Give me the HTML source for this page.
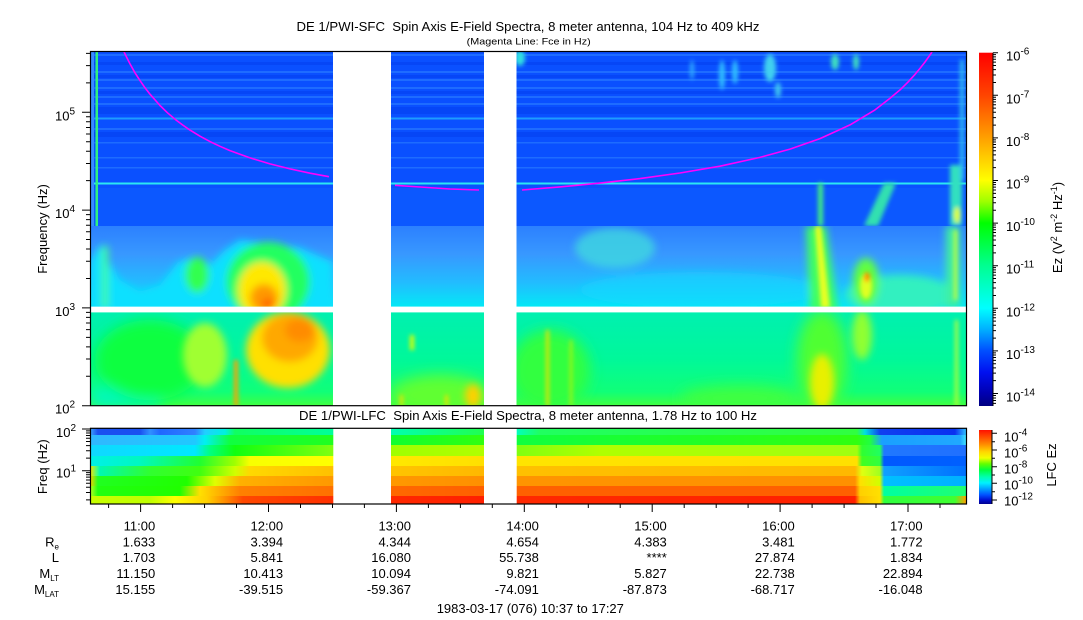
<!DOCTYPE html>
<html><head><meta charset="utf-8">
<style>
html,body{margin:0;padding:0;background:#fff;}
svg{display:block;font-family:"Liberation Sans",Arial,sans-serif;}
</style></head><body>
<svg width="1083" height="620" viewBox="0 0 1083 620" xmlns="http://www.w3.org/2000/svg">
<defs>
<filter id="b2" x="-50%" y="-50%" width="200%" height="200%"><feGaussianBlur stdDeviation="2"/></filter>
<filter id="b4" x="-50%" y="-50%" width="200%" height="200%"><feGaussianBlur stdDeviation="4"/></filter>
<filter id="b7" x="-50%" y="-50%" width="200%" height="200%"><feGaussianBlur stdDeviation="7"/></filter>
<clipPath id="cB"><rect x="90" y="51.5" width="876" height="174.5"/></clipPath>
<clipPath id="cLB"><rect x="90" y="226" width="876" height="80.7"/></clipPath>
<clipPath id="cG"><rect x="90" y="312.3" width="876" height="93.4"/></clipPath>
<linearGradient id="gLB" x1="0" y1="226" x2="0" y2="306.7" gradientUnits="userSpaceOnUse">
<stop offset="0" stop-color="#2c80ff"/><stop offset="0.35" stop-color="#3898ff"/><stop offset="0.7" stop-color="#22bcff"/><stop offset="1" stop-color="#04e8f6"/>
</linearGradient>
<linearGradient id="gGr" x1="0" y1="312.3" x2="0" y2="405.7" gradientUnits="userSpaceOnUse">
<stop offset="0" stop-color="#00f0b0"/><stop offset="0.5" stop-color="#00f89a"/><stop offset="0.85" stop-color="#10ff78"/><stop offset="1" stop-color="#40ff40"/>
</linearGradient>
<linearGradient id="gCB" x1="0" y1="52.7" x2="0" y2="406" gradientUnits="userSpaceOnUse">
<stop offset="0" stop-color="#ff0000"/><stop offset="0.12" stop-color="#ff4400"/><stop offset="0.241" stop-color="#ffa000"/><stop offset="0.361" stop-color="#ffff00"/><stop offset="0.42" stop-color="#a0ff00"/><stop offset="0.482" stop-color="#00ff00"/><stop offset="0.602" stop-color="#00ff90"/><stop offset="0.723" stop-color="#00ffff"/><stop offset="0.783" stop-color="#00b0ff"/><stop offset="0.843" stop-color="#0050ff"/><stop offset="0.904" stop-color="#0010f0"/><stop offset="0.964" stop-color="#0000b0"/><stop offset="1" stop-color="#000080"/>
</linearGradient>
<linearGradient id="gCL" x1="0" y1="430" x2="0" y2="504" gradientUnits="userSpaceOnUse">
<stop offset="0" stop-color="#ff1000"/><stop offset="0.176" stop-color="#ff8000"/><stop offset="0.297" stop-color="#ffd800"/><stop offset="0.378" stop-color="#f0ff00"/><stop offset="0.459" stop-color="#60ff00"/><stop offset="0.54" stop-color="#00ff40"/><stop offset="0.635" stop-color="#00ffb0"/><stop offset="0.716" stop-color="#00f0ff"/><stop offset="0.797" stop-color="#00a0ff"/><stop offset="0.878" stop-color="#0050ff"/><stop offset="0.946" stop-color="#0010d0"/><stop offset="1" stop-color="#000090"/>
</linearGradient>
<linearGradient id="r1" x1="90" y1="0" x2="966" y2="0" gradientUnits="userSpaceOnUse">
<stop offset="0" stop-color="#40a8ff"/><stop offset=".009" stop-color="#1a50f0"/><stop offset=".0571" stop-color="#1a50f0"/><stop offset=".0685" stop-color="#3090ff"/><stop offset=".0799" stop-color="#2068ff"/><stop offset=".1199" stop-color="#3080ff"/><stop offset=".1313" stop-color="#20d0ff"/><stop offset=".1541" stop-color="#00f0e0"/><stop offset=".1655" stop-color="#10ff60"/><stop offset=".2774" stop-color="#00ff9a"/><stop offset=".3436" stop-color="#00ffb0"/><stop offset=".4498" stop-color="#20ff50"/><stop offset=".4863" stop-color="#00ffc0"/><stop offset=".5137" stop-color="#20ff60"/><stop offset=".8756" stop-color="#30ff40"/><stop offset=".8847" stop-color="#00e0e0"/><stop offset=".9018" stop-color="#1040f0"/><stop offset=".9874" stop-color="#0a30f0"/><stop offset="1" stop-color="#30c0ff"/>
</linearGradient>
<linearGradient id="r2" x1="90" y1="0" x2="966" y2="0" gradientUnits="userSpaceOnUse">
<stop offset="0" stop-color="#30b8ff"/><stop offset=".1199" stop-color="#20c8ff"/><stop offset=".1313" stop-color="#00f0f0"/><stop offset=".1598" stop-color="#10ff40"/><stop offset=".2774" stop-color="#20ff20"/><stop offset=".3436" stop-color="#10ff30"/><stop offset=".4498" stop-color="#30ff10"/><stop offset=".4863" stop-color="#10ff40"/><stop offset=".8756" stop-color="#30ff10"/><stop offset=".8904" stop-color="#20ff40"/><stop offset=".9041" stop-color="#1aa0ff"/><stop offset=".9932" stop-color="#20a8ff"/><stop offset="1" stop-color="#40e0ff"/>
</linearGradient>
<linearGradient id="r3" x1="90" y1="0" x2="966" y2="0" gradientUnits="userSpaceOnUse">
<stop offset="0" stop-color="#10d8ff"/><stop offset=".1199" stop-color="#00e8ff"/><stop offset=".137" stop-color="#00ff80"/><stop offset=".1655" stop-color="#10ff10"/><stop offset=".2774" stop-color="#80ff10"/><stop offset=".3436" stop-color="#a0ff00"/><stop offset=".4498" stop-color="#b0ff00"/><stop offset=".4863" stop-color="#80ff10"/><stop offset=".5822" stop-color="#b0ff00"/><stop offset=".8756" stop-color="#a0ff10"/><stop offset=".8813" stop-color="#30ff30"/><stop offset=".9018" stop-color="#20ff60"/><stop offset=".9064" stop-color="#2078ff"/><stop offset="1" stop-color="#2070ff"/>
</linearGradient>
<linearGradient id="r4" x1="90" y1="0" x2="966" y2="0" gradientUnits="userSpaceOnUse">
<stop offset="0" stop-color="#00f0e8"/><stop offset=".0571" stop-color="#00f8c0"/><stop offset=".1256" stop-color="#20ff30"/><stop offset=".1655" stop-color="#a0ff00"/><stop offset=".1826" stop-color="#f8ff00"/><stop offset=".2774" stop-color="#ffff00"/><stop offset=".3436" stop-color="#ffe800"/><stop offset=".4498" stop-color="#ffe000"/><stop offset=".4863" stop-color="#ffe400"/><stop offset=".8756" stop-color="#ffe000"/><stop offset=".8813" stop-color="#40ff20"/><stop offset=".9018" stop-color="#30ff40"/><stop offset=".9064" stop-color="#0058ff"/><stop offset="1" stop-color="#0060ff"/>
</linearGradient>
<linearGradient id="r5" x1="90" y1="0" x2="966" y2="0" gradientUnits="userSpaceOnUse">
<stop offset="0" stop-color="#ffe000"/><stop offset=".008" stop-color="#40ff80"/><stop offset=".0114" stop-color="#00f8b0"/><stop offset=".0685" stop-color="#30ff30"/><stop offset=".1256" stop-color="#40ff10"/><stop offset=".1655" stop-color="#d0ff00"/><stop offset=".1826" stop-color="#ffd800"/><stop offset=".2774" stop-color="#ffc000"/><stop offset=".3436" stop-color="#ffc400"/><stop offset=".4498" stop-color="#ffb800"/><stop offset=".4863" stop-color="#ffc000"/><stop offset=".8733" stop-color="#ffb800"/><stop offset=".8813" stop-color="#e0ff10"/><stop offset=".9018" stop-color="#a0ff20"/><stop offset=".9064" stop-color="#10a0ff"/><stop offset="1" stop-color="#0070ff"/>
</linearGradient>
<linearGradient id="r6" x1="90" y1="0" x2="966" y2="0" gradientUnits="userSpaceOnUse">
<stop offset="0" stop-color="#ffd000"/><stop offset=".009" stop-color="#20ff20"/><stop offset=".1107" stop-color="#20ff00"/><stop offset=".1427" stop-color="#e0ff00"/><stop offset=".1712" stop-color="#ffb000"/><stop offset=".2774" stop-color="#ff9800"/><stop offset=".3436" stop-color="#ff9800"/><stop offset=".4498" stop-color="#ff9000"/><stop offset=".4863" stop-color="#ff9400"/><stop offset=".8733" stop-color="#ff9000"/><stop offset=".879" stop-color="#ffe000"/><stop offset=".9018" stop-color="#d0ff00"/><stop offset=".9064" stop-color="#00c0ff"/><stop offset="1" stop-color="#00b0ff"/>
</linearGradient>
<linearGradient id="r7" x1="90" y1="0" x2="966" y2="0" gradientUnits="userSpaceOnUse">
<stop offset="0" stop-color="#c0ff20"/><stop offset=".009" stop-color="#20ff10"/><stop offset=".1027" stop-color="#20ff00"/><stop offset=".1256" stop-color="#ffe000"/><stop offset=".1712" stop-color="#ff8000"/><stop offset=".2774" stop-color="#ff7000"/><stop offset=".3436" stop-color="#ff6800"/><stop offset=".4498" stop-color="#ff6000"/><stop offset=".4863" stop-color="#ff6000"/><stop offset=".8733" stop-color="#ff6000"/><stop offset=".879" stop-color="#ffd000"/><stop offset=".9018" stop-color="#ffe000"/><stop offset=".9064" stop-color="#00ffa0"/><stop offset="1" stop-color="#20ff70"/>
</linearGradient>
<linearGradient id="r8" x1="90" y1="0" x2="966" y2="0" gradientUnits="userSpaceOnUse">
<stop offset="0" stop-color="#c8ff00"/><stop offset=".0685" stop-color="#c0ff00"/><stop offset=".097" stop-color="#ffff00"/><stop offset=".1336" stop-color="#ffd000"/><stop offset=".1747" stop-color="#ff4800"/><stop offset=".2774" stop-color="#ff3000"/><stop offset=".3436" stop-color="#ff2800"/><stop offset=".4498" stop-color="#ff2000"/><stop offset=".4863" stop-color="#ff2800"/><stop offset=".8733" stop-color="#ff2000"/><stop offset=".879" stop-color="#ffc000"/><stop offset=".9018" stop-color="#ffe000"/><stop offset=".9064" stop-color="#30ff40"/><stop offset=".9874" stop-color="#40ff30"/><stop offset="1" stop-color="#ffa000"/>
</linearGradient>
</defs>

<!-- ===== MAIN PANEL: blue region ===== -->
<g clip-path="url(#cB)">
<rect x="90" y="51.5" width="876" height="174.5" fill="#0a50ff"/>
<g fill="#0646f6">
<rect x="90" y="62" width="876" height="3"/><rect x="90" y="75" width="876" height="3"/><rect x="90" y="91" width="876" height="3"/><rect x="90" y="107" width="876" height="7"/><rect x="90" y="132" width="876" height="5"/>
</g>
<g fill="#1e6cff">
<rect x="90" y="54" width="876" height="2"/><rect x="90" y="71" width="876" height="2"/><rect x="90" y="79" width="876" height="2"/><rect x="90" y="87" width="876" height="2"/><rect x="90" y="96" width="876" height="2"/><rect x="90" y="103" width="876" height="2"/><rect x="90" y="128" width="876" height="2"/><rect x="90" y="142" width="876" height="1.5"/><rect x="90" y="157" width="876" height="1.5"/><rect x="90" y="167" width="876" height="1.5"/>
</g>
<rect x="90" y="117.5" width="876" height="2" fill="#1e9cff"/>
<rect x="90" y="188" width="876" height="38" fill="#0c58ff"/>
<rect x="90" y="182.5" width="876" height="2" fill="#2ce6f2"/>
<rect x="90" y="51.5" width="4" height="175" fill="#3a8cff"/>
<rect x="95.5" y="51.5" width="2.5" height="175" fill="#30f080"/>
<g filter="url(#b2)">
<ellipse cx="722" cy="75" rx="3" ry="15" fill="#30c0ff"/>
<ellipse cx="735" cy="72" rx="3" ry="12" fill="#30c0ff"/>
<ellipse cx="770" cy="68" rx="6" ry="14" fill="#40d0f0"/>
<ellipse cx="778" cy="90" rx="3" ry="8" fill="#40c8f0"/>
<ellipse cx="835" cy="62" rx="4" ry="8" fill="#40e0c0"/>
<ellipse cx="856" cy="62" rx="3" ry="8" fill="#40e0c0"/>
<ellipse cx="520" cy="58" rx="5" ry="8" fill="#30e0e0"/>
<ellipse cx="692" cy="70" rx="2" ry="10" fill="#30b0ff"/>
<polygon points="884,183 896,183 878,226 864,226" fill="#30e0b0"/>
<rect x="818" y="183" width="5" height="43" fill="#40f080"/>
<rect x="950" y="165" width="12" height="61" fill="#30e0c0"/>
<ellipse cx="957" cy="215" rx="3" ry="8" fill="#e0ff20"/>
<rect x="960" y="60" width="4" height="120" fill="#30c0f0"/>
</g>
</g>

<!-- ===== light blue region ===== -->
<g clip-path="url(#cLB)">
<rect x="90" y="226" width="876" height="81" fill="url(#gLB)"/>
<g filter="url(#b4)">
<polygon points="90,312 90,262 100,245 108,262 120,280 140,292 160,285 178,262 192,258 210,265 225,250 240,240 300,248 333,262 333,312" fill="#08e0ff"/>
<rect x="102" y="246" width="6" height="62" fill="#40ff90"/>
<ellipse cx="197" cy="275" rx="12" ry="18" fill="#30ff50"/>
<ellipse cx="268" cy="282" rx="42" ry="40" fill="#20ff60"/>
<ellipse cx="262" cy="290" rx="24" ry="28" fill="#ffe800"/>
<ellipse cx="264" cy="298" rx="14" ry="14" fill="#ff9800"/>
<ellipse cx="268" cy="304" rx="6" ry="5" fill="#ff5800"/>
<ellipse cx="615" cy="248" rx="40" ry="20" fill="#40d8e0" opacity="0.8"/>
<ellipse cx="700" cy="290" rx="120" ry="18" fill="#10d8ff" opacity="0.6"/>
<ellipse cx="900" cy="295" rx="55" ry="20" fill="#30f0c0"/>
<polygon points="806,226 826,226 838,312 810,312" fill="#40ff60"/>
<ellipse cx="866" cy="282" rx="13" ry="24" fill="#60ff40"/>
<rect x="946" y="226" width="14" height="82" fill="#40f0a0"/>
</g>
<g filter="url(#b2)">
<polygon points="815,226 821,226 830,308 821,308" fill="#e8ff20"/>
<ellipse cx="866" cy="286" rx="6" ry="13" fill="#e0ff20"/>
<ellipse cx="867" cy="277" rx="3" ry="5" fill="#ff9000"/>
<rect x="954" y="230" width="3" height="70" fill="#d0ff30"/>
</g>
</g>

<!-- ===== green region ===== -->
<g clip-path="url(#cG)">
<rect x="90" y="312" width="876" height="94" fill="url(#gGr)"/>
<g filter="url(#b7)">
<rect x="90" y="388" width="70" height="20" fill="#00f8c0"/>
<ellipse cx="150" cy="360" rx="55" ry="40" fill="#10ff40"/>
<ellipse cx="440" cy="395" rx="50" ry="20" fill="#60ff30"/>
<ellipse cx="550" cy="370" rx="40" ry="40" fill="#30ff40"/>
<ellipse cx="822" cy="360" rx="25" ry="50" fill="#50ff30"/>
<ellipse cx="740" cy="398" rx="60" ry="12" fill="#40ff40"/>
</g>
<g filter="url(#b4)">
<ellipse cx="205" cy="355" rx="22" ry="32" fill="#a0ff30"/>
<ellipse cx="288" cy="350" rx="42" ry="38" fill="#ffe000"/>
<ellipse cx="290" cy="338" rx="28" ry="24" fill="#ffa800"/>
<ellipse cx="300" cy="330" rx="15" ry="12" fill="#ff8c00"/>
<ellipse cx="822" cy="382" rx="12" ry="28" fill="#e8f000"/>
<ellipse cx="862" cy="335" rx="10" ry="25" fill="#90ff30"/>
<ellipse cx="473" cy="396" rx="8" ry="12" fill="#ffd000"/>
</g>
<g filter="url(#b2)">
<rect x="234" y="360" width="4" height="46" fill="#ffa000"/>
<rect x="546" y="330" width="3" height="76" fill="#f0e000"/>
<rect x="570" y="340" width="2" height="66" fill="#d0f000"/>
<rect x="410" y="335" width="4" height="15" fill="#e0ff00"/>
<rect x="400" y="395" width="3" height="11" fill="#f0e000"/>
<rect x="445" y="395" width="3" height="11" fill="#f0e000"/>
<rect x="955" y="320" width="3" height="86" fill="#c0ff30"/>
</g>
</g>

<!-- magenta Fce -->
<g fill="none" stroke="#ff00ff" stroke-width="1.6" stroke-linejoin="round">
<polyline points="124,51.9 130,63.9 135,72.8 140,80.6 145,87.8 150,94.2 160,105.5 167.5,112.8 175,119.2 182.5,124.9 190,130.1 200,136.2 210,141.6 220,146.3 230,150.6 250,157.9 270,163.9 290,168.9 310,173.2 329,176.7"/>
<polyline points="395,185.3 420,187 450,189 479,190"/>
<polyline points="522,190 560,186.9 600,183.1 640,178.6 680,173 720,166.2 760,157.4 790,149.1 820,138.6 850,124.9 875,109.9 890,98.3 900,89.9 908,82.1 915,74.4 920,68.4 925,62 929,56.4 932,52"/>
</g>

<!-- gaps and band -->
<rect x="333" y="51.5" width="58" height="354.2" fill="#fff"/>
<rect x="484" y="51.5" width="32.5" height="354.2" fill="#fff"/>
<rect x="90" y="306.7" width="876" height="5.6" fill="#fff"/>

<rect x="90.5" y="51.5" width="876" height="354.2" fill="none" stroke="#000" stroke-width="1.2"/>

<!-- main y ticks -->
<path stroke="#000" stroke-width="1" fill="none" d="M82,405.7h8M82,307.9h8M82,210.1h8M82,112.3h8
M86,376.26h4M86,359.04h4M86,346.82h4M86,337.34h4M86,329.6h4M86,323.05h4M86,317.38h4M86,312.38h4
M86,278.46h4M86,261.24h4M86,249.02h4M86,239.54h4M86,231.8h4M86,225.25h4M86,219.58h4M86,214.58h4
M86,180.66h4M86,163.44h4M86,151.22h4M86,141.74h4M86,134h4M86,127.45h4M86,121.78h4M86,116.78h4
M86,82.86h4M86,65.64h4M86,53.42h4"/>
<g font-size="13" fill="#000">
<text x="55" y="120.3">10<tspan dy="-6" font-size="10">5</tspan></text>
<text x="55" y="218.1">10<tspan dy="-6" font-size="10">4</tspan></text>
<text x="55" y="315.9">10<tspan dy="-6" font-size="10">3</tspan></text>
<text x="55" y="413.7">10<tspan dy="-6" font-size="10">2</tspan></text>
</g>
<text transform="translate(47,229) rotate(-90)" text-anchor="middle" font-size="13" fill="#000">Frequency (Hz)</text>

<!-- titles -->
<text x="528" y="31" text-anchor="middle" font-size="13" fill="#000" textLength="463" lengthAdjust="spacingAndGlyphs" xml:space="preserve">DE 1/PWI-SFC  Spin Axis E-Field Spectra, 8 meter antenna, 104 Hz to 409 kHz</text>
<text x="528.7" y="44.3" text-anchor="middle" font-size="9.5" fill="#000" textLength="124" lengthAdjust="spacingAndGlyphs">(Magenta Line: Fce in Hz)</text>
<text x="528" y="420" text-anchor="middle" font-size="13" fill="#000" textLength="458" lengthAdjust="spacingAndGlyphs" xml:space="preserve">DE 1/PWI-LFC  Spin Axis E-Field Spectra, 8 meter antenna, 1.78 Hz to 100 Hz</text>

<!-- main colorbar -->
<rect x="979" y="52.7" width="14" height="353.3" fill="url(#gCB)"/>
<path stroke="#000" stroke-width="1" fill="none" d="M993,52.7V406
M993,52.7h5M993,95.3h5M993,137.9h5M993,180.5h5M993,223.1h5M993,265.7h5M993,308.3h5M993,350.9h5M993,393.5h5
M993,82.48h3M993,74.97h3M993,69.65h3M993,65.52h3M993,62.15h3M993,59.3h3M993,56.83h3M993,54.65h3
M993,125.08h3M993,117.57h3M993,112.25h3M993,108.12h3M993,104.75h3M993,101.9h3M993,99.43h3M993,97.25h3
M993,167.68h3M993,160.17h3M993,154.85h3M993,150.72h3M993,147.35h3M993,144.5h3M993,142.03h3M993,139.85h3
M993,210.28h3M993,202.77h3M993,197.45h3M993,193.32h3M993,189.95h3M993,187.1h3M993,184.63h3M993,182.45h3
M993,252.88h3M993,245.37h3M993,240.05h3M993,235.92h3M993,232.55h3M993,229.7h3M993,227.23h3M993,225.05h3
M993,295.48h3M993,287.97h3M993,282.65h3M993,278.52h3M993,275.15h3M993,272.3h3M993,269.83h3M993,267.65h3
M993,338.08h3M993,330.57h3M993,325.25h3M993,321.12h3M993,317.75h3M993,314.9h3M993,312.43h3M993,310.25h3
M993,380.68h3M993,373.17h3M993,367.85h3M993,363.72h3M993,360.35h3M993,357.5h3M993,355.03h3M993,352.85h3
M993,395.45h3M993,398.03h3M993,400.5h3M993,403.35h3"/>
<g font-size="13" fill="#000">
<text x="1006" y="60.7">10<tspan dy="-6" font-size="10">-6</tspan></text>
<text x="1006" y="103.3">10<tspan dy="-6" font-size="10">-7</tspan></text>
<text x="1006" y="145.9">10<tspan dy="-6" font-size="10">-8</tspan></text>
<text x="1006" y="188.5">10<tspan dy="-6" font-size="10">-9</tspan></text>
<text x="1006" y="231.1">10<tspan dy="-6" font-size="10">-10</tspan></text>
<text x="1006" y="273.7">10<tspan dy="-6" font-size="10">-11</tspan></text>
<text x="1006" y="316.3">10<tspan dy="-6" font-size="10">-12</tspan></text>
<text x="1006" y="358.9">10<tspan dy="-6" font-size="10">-13</tspan></text>
<text x="1006" y="401.5">10<tspan dy="-6" font-size="10">-14</tspan></text>
</g>
<text transform="translate(1062,227.5) rotate(-90)" text-anchor="middle" font-size="13" fill="#000">Ez (V<tspan dy="-5" font-size="9">2</tspan><tspan dy="5"> m</tspan><tspan dy="-5" font-size="9">-2</tspan><tspan dy="5"> Hz</tspan><tspan dy="-5" font-size="9">-1</tspan><tspan dy="5">)</tspan></text>

<!-- ===== LOWER PANEL ===== -->
<rect x="90" y="428.3" width="876" height="6.7" fill="url(#r1)"/>
<rect x="90" y="435" width="876" height="10" fill="url(#r2)"/>
<rect x="90" y="445" width="876" height="11" fill="url(#r3)"/>
<rect x="90" y="456" width="876" height="10" fill="url(#r4)"/>
<rect x="90" y="466" width="876" height="10" fill="url(#r5)"/>
<rect x="90" y="476" width="876" height="10" fill="url(#r6)"/>
<rect x="90" y="486" width="876" height="10" fill="url(#r7)"/>
<rect x="90" y="496" width="876" height="8" fill="url(#r8)"/>
<rect x="333.3" y="428.3" width="57.7" height="75.7" fill="#fff"/>
<rect x="484" y="428.3" width="32.7" height="75.7" fill="#fff"/>
<rect x="90.5" y="428.3" width="876" height="75.7" fill="none" stroke="#000" stroke-width="1.2"/>
<path stroke="#000" stroke-width="1" fill="none" d="M82,470.7h8M82,429h8
M86,499.85h4M86,492.5h4M86,487.3h4M86,483.25h4M86,479.95h4M86,477.16h4M86,474.74h4M86,472.61h4
M86,458.15h4M86,450.8h4M86,445.59h4M86,441.55h4M86,438.25h4M86,435.46h4M86,433.04h4M86,430.91h4
M140.6,504v8M268.5,504v8M396.4,504v8M524.3,504v8M652.2,504v8M780.1,504v8M908,504v8
M108.6,504v4M172.6,504v4M204.55,504v4M236.5,504v4M300.5,504v4M332.5,504v4M364.4,504v4M428.4,504v4M460.4,504v4M492.3,504v4M556.3,504v4M588.3,504v4M620.2,504v4M684.2,504v4M716.2,504v4M748.1,504v4M812.1,504v4M844.1,504v4M876,504v4M940,504v4"/>
<g font-size="13" fill="#000">
<text x="56" y="437">10<tspan dy="-6" font-size="10">2</tspan></text>
<text x="56" y="477.5">10<tspan dy="-6" font-size="10">1</tspan></text>
</g>
<text transform="translate(47,466.7) rotate(-90)" text-anchor="middle" font-size="13" fill="#000">Freq (Hz)</text>

<!-- LFC colorbar -->
<rect x="979" y="430" width="13" height="74" fill="url(#gCL)"/>
<path stroke="#000" stroke-width="1" fill="none" d="M992,430V504M992,433.3h5M992,450h5M992,466.7h5M992,483.3h5M992,500h5M992,441.7h3M992,458.3h3M992,475h3M992,491.7h3"/>
<g font-size="13" fill="#000">
<text x="1004" y="441.5">10<tspan dy="-6" font-size="10">-4</tspan></text>
<text x="1004" y="457.5">10<tspan dy="-6" font-size="10">-6</tspan></text>
<text x="1004" y="473.5">10<tspan dy="-6" font-size="10">-8</tspan></text>
<text x="1004" y="489.5">10<tspan dy="-6" font-size="10">-10</tspan></text>
<text x="1004" y="505.5">10<tspan dy="-6" font-size="10">-12</tspan></text>
</g>
<text transform="translate(1056,465) rotate(-90)" text-anchor="middle" font-size="13" fill="#000">LFC Ez</text>

<!-- bottom annotation -->
<g font-size="13" fill="#000" text-anchor="end">
<text x="155.2" y="530.3">11:00</text><text x="283.1" y="530.3">12:00</text><text x="411" y="530.3">13:00</text><text x="538.9" y="530.3">14:00</text><text x="666.8" y="530.3">15:00</text><text x="794.7" y="530.3">16:00</text><text x="922.6" y="530.3">17:00</text>
<text x="155.2" y="546.3">1.633</text><text x="283.1" y="546.3">3.394</text><text x="411" y="546.3">4.344</text><text x="538.9" y="546.3">4.654</text><text x="666.8" y="546.3">4.383</text><text x="794.7" y="546.3">3.481</text><text x="922.6" y="546.3">1.772</text>
<text x="155.2" y="562">1.703</text><text x="283.1" y="562">5.841</text><text x="411" y="562">16.080</text><text x="538.9" y="562">55.738</text><text x="666.8" y="562">****</text><text x="794.7" y="562">27.874</text><text x="922.6" y="562">1.834</text>
<text x="155.2" y="578">11.150</text><text x="283.1" y="578">10.413</text><text x="411" y="578">10.094</text><text x="538.9" y="578">9.821</text><text x="666.8" y="578">5.827</text><text x="794.7" y="578">22.738</text><text x="922.6" y="578">22.894</text>
<text x="155.2" y="594">15.155</text><text x="283.1" y="594">-39.515</text><text x="411" y="594">-59.367</text><text x="538.9" y="594">-74.091</text><text x="666.8" y="594">-87.873</text><text x="794.7" y="594">-68.717</text><text x="922.6" y="594">-16.048</text>
<text x="59" y="546.3">R<tspan font-size="8" dy="3">e</tspan></text>
<text x="59" y="562">L</text>
<text x="59" y="578">M<tspan font-size="8" dy="3">LT</tspan></text>
<text x="59" y="594">M<tspan font-size="8" dy="3">LAT</tspan></text>
</g>
<text x="436.7" y="613" font-size="13" fill="#000">1983-03-17 (076) 10:37 to 17:27</text>
</svg>
</body></html>
